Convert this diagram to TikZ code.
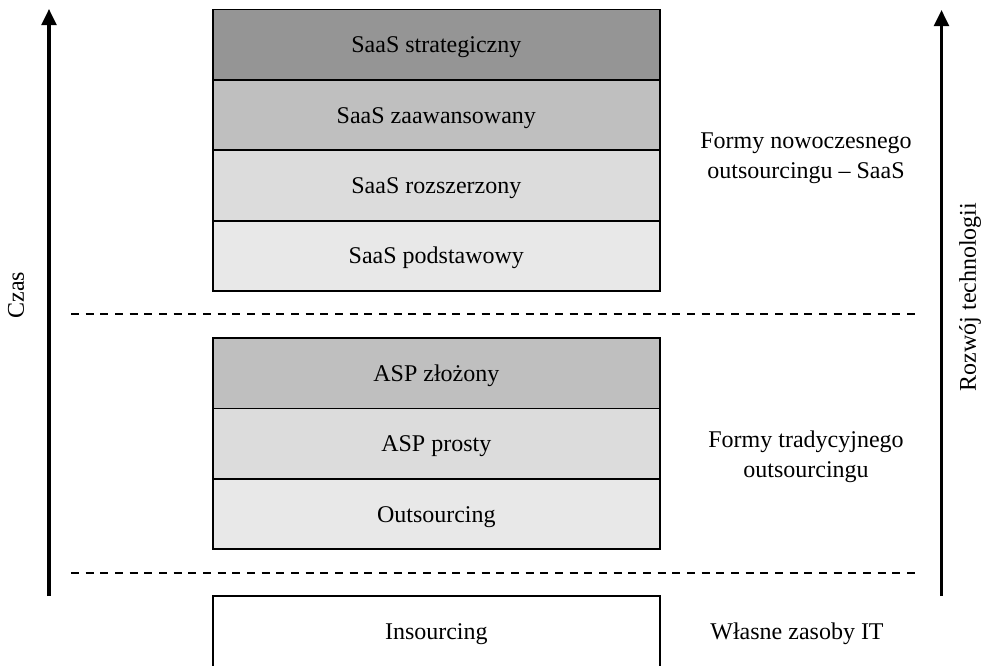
\documentclass[tikz,border=0pt]{standalone}
\usepackage{fontspec}
\setmainfont{Liberation Serif}
\usepackage{tikz}
\usetikzlibrary{positioning, arrows.meta}

\definecolor{grayA}{HTML}{959595}
\definecolor{grayB}{HTML}{BFBFBF}
\definecolor{grayC}{HTML}{DCDCDC}
\definecolor{grayD}{HTML}{E8E8E8}

\begin{document}
\begin{tikzpicture}[x=0.75pt, y=-0.75pt, >={Triangle[length=12pt, width=11pt]},
    font=\fontsize{18}{22.5}\selectfont,
    level/.style={rectangle, draw, line width=1.3pt, minimum width=335pt, minimum height=52.8pt, outer sep=0pt, inner sep=0pt, text height=12pt, text depth=0pt},
    label/.style={align=center},
    sep/.style={dashed, line width=1.1pt, dash pattern=on 6pt off 5pt},
    axis/.style={->, line width=2.3pt}]
        \clip (0,0) rectangle (988,665);
        % nowoczesny outsourcing
        \node[level, fill=grayA, anchor=north west] at (213,9.5) (S1) {SaaS strategiczny};
        \node[level, fill=grayB, below=0pt of S1] (S2) {SaaS zaawansowany};
        \node[level, fill=grayC, below=0pt of S2] (S3) {SaaS rozszerzony};
        \node[level, fill=grayD, below=0pt of S3] (S4) {SaaS podstawowy};
        % tradycyjny outsourcing
        \node[level, fill=grayB, anchor=north west] at (213,338) (A1) {ASP złożony};
        \node[level, fill=grayC, below=0pt of A1] (A2) {ASP prosty};
        \node[level, fill=grayD, below=0pt of A2] (A3) {Outsourcing};
        % zasoby wlasne
        \node[level, fill=white, anchor=north west] at (213,596) (I) {Insourcing};

        \node[label] at (806,158) (L1) {Formy nowoczesnego\\outsourcingu – SaaS};
        \node[label] at (806,457) (L2) {Formy tradycyjnego\\outsourcingu};
        \node[label] at (797,634) (L3) {Własne zasoby IT};

        \coordinate (d1a) at (71,314);
        \coordinate (d1b) at (918,314);
        \coordinate (d2a) at (71,573);
        \coordinate (d2b) at (918,573);
        \draw[sep] (d1a) -- (d1b);
        \draw[sep] (d2a) -- (d2b);

        \coordinate (t0) at (49,596);
        \coordinate (t1) at (49,9);
        \coordinate (r0) at (941.5,596);
        \coordinate (r1) at (941.5,10);
        \draw[axis] (t0) -- (t1);
        \draw[axis] (r0) -- (r1);
        \node[rotate=90] at (16,295) (czas) {Czas};
        \node[rotate=90] at (970,297) (tech) {Rozwój technologii};
  \end{tikzpicture}
\end{document}
